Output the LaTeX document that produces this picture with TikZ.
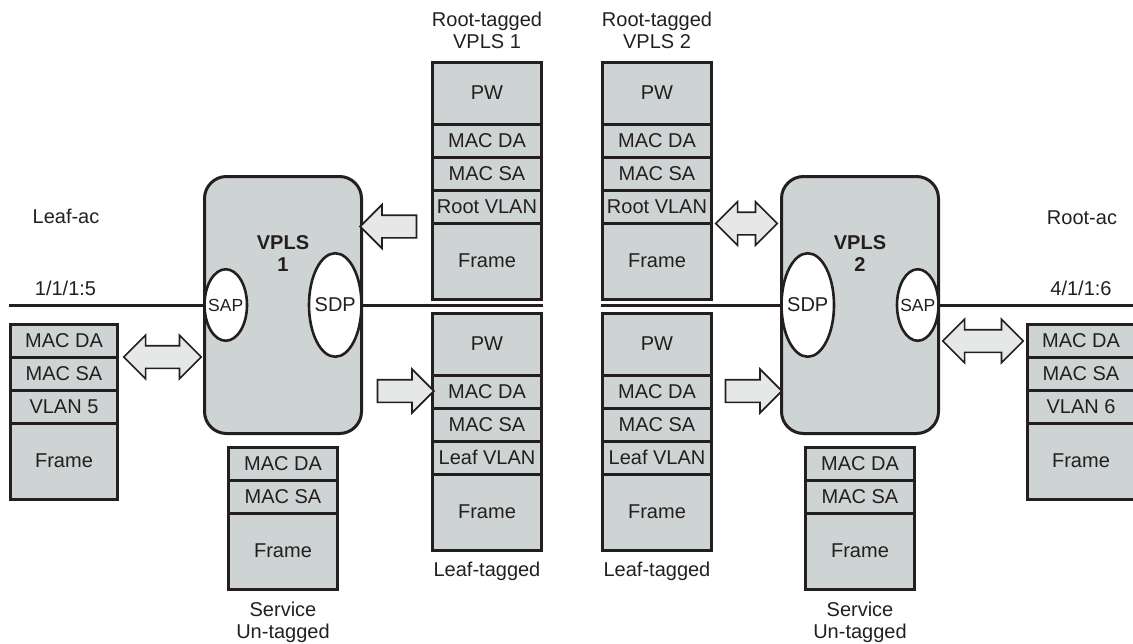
\documentclass[tikz,border=0pt]{standalone}
\usepackage{fontspec}
\setmainfont{Liberation Sans}
\usetikzlibrary{positioning,shapes.geometric,shapes.arrows}
\definecolor{ink}{RGB}{35,31,32}
\definecolor{cellgrey}{RGB}{206,211,211}
\definecolor{arrowgrey}{RGB}{230,231,231}
\begin{document}
\begin{tikzpicture}[
  x=1pt, y=-1pt,
  every node/.style={font=\fontsize{20}{22}\selectfont,inner sep=0pt,outer sep=0pt,text=ink},
  fieldcell/.style={draw=ink,fill=cellgrey,line width=3pt,minimum width=109pt,minimum height=33pt},
  pwcell/.style={fieldcell,minimum height=62pt},
  framecell/.style={fieldcell,minimum height=76pt},
  accesscell/.style={fieldcell,minimum width=106.5pt},
  vplsbox/.style={draw=ink,fill=cellgrey,line width=3pt,rounded corners=22pt,minimum width=157pt,minimum height=257pt},
  port/.style={ellipse,draw=ink,fill=white,line width=2.6pt},
  wire/.style={draw=ink,line width=3pt},
  fatarrow/.style={single arrow,draw=ink,fill=arrowgrey,line width=1.7pt,inner xsep=0pt,inner ysep=10.5pt,single arrow head extend=10.5pt,minimum height=56.5pt},
  twinarrow/.style={double arrow,draw=ink,fill=arrowgrey,line width=1.7pt,inner xsep=0pt,inner ysep=10.5pt,double arrow head extend=10.5pt},
  stacklabel/.style={align=center}
]
\useasboundingbox (0,0) rectangle (1133,643);

% service instances
\node[vplsbox] (vpls1) at (283,305) {};
\node[vplsbox] (vpls2) at (860,305) {};
\node[align=center,anchor=north,font=\fontsize{20}{22}\selectfont\bfseries] (vpls1label) at ([yshift=-59pt]vpls1.north) {VPLS\\1};
\node[align=center,anchor=north,font=\fontsize{20}{22}\selectfont\bfseries] (vpls2label) at ([yshift=-59pt]vpls2.north) {VPLS\\2};
\node[port,minimum width=42.5pt,minimum height=71.5pt,right=0pt of vpls1.west,label={[font=\fontsize{17.5}{20}\selectfont]center:SAP}] (sap1) {};
\node[port,minimum width=52.5pt,minimum height=103.5pt,left=0pt of vpls1.east,label=center:SDP] (sdp1) {};
\node[port,minimum width=52.5pt,minimum height=103.5pt,right=0pt of vpls2.west,label=center:SDP] (sdp2) {};
\node[port,minimum width=41.5pt,minimum height=71.5pt,left=0pt of vpls2.east,label={[font=\fontsize{17.5}{20}\selectfont]center:SAP}] (sap2) {};

% root-tagged frames
\node[pwcell] (r1pw) at (487,93) {PW};
\node[fieldcell,below=0pt of r1pw] (r1da) {MAC DA};
\node[fieldcell,below=0pt of r1da] (r1sa) {MAC SA};
\node[fieldcell,below=0pt of r1sa] (r1vl) {Root VLAN};
\node[framecell,below=0pt of r1vl] (r1fr) {Frame};
\node[pwcell] (r2pw) at (657,93) {PW};
\node[fieldcell,below=0pt of r2pw] (r2da) {MAC DA};
\node[fieldcell,below=0pt of r2da] (r2sa) {MAC SA};
\node[fieldcell,below=0pt of r2sa] (r2vl) {Root VLAN};
\node[framecell,below=0pt of r2vl] (r2fr) {Frame};
\node[stacklabel,above=13pt of r1pw] (r1cap) {Root-tagged\\VPLS 1};
\node[stacklabel,above=13pt of r2pw] (r2cap) {Root-tagged\\VPLS 2};

% leaf-tagged frames
\node[pwcell] (l1pw) at (487,344) {PW};
\node[fieldcell,below=0pt of l1pw] (l1da) {MAC DA};
\node[fieldcell,below=0pt of l1da] (l1sa) {MAC SA};
\node[fieldcell,below=0pt of l1sa] (l1vl) {Leaf VLAN};
\node[framecell,below=0pt of l1vl] (l1fr) {Frame};
\node[pwcell] (l2pw) at (657,344) {PW};
\node[fieldcell,below=0pt of l2pw] (l2da) {MAC DA};
\node[fieldcell,below=0pt of l2da] (l2sa) {MAC SA};
\node[fieldcell,below=0pt of l2sa] (l2vl) {Leaf VLAN};
\node[framecell,below=0pt of l2vl] (l2fr) {Frame};
\node[stacklabel,below=12pt of l1fr] (l1cap) {Leaf-tagged};
\node[stacklabel,below=12pt of l2fr] (l2cap) {Leaf-tagged};

% access frames
\node[accesscell] (a1da) at (64,340.5) {MAC DA};
\node[accesscell,below=0pt of a1da] (a1sa) {MAC SA};
\node[accesscell,below=0pt of a1sa] (a1vl) {VLAN 5};
\node[accesscell,framecell,minimum width=106.5pt,below=0pt of a1vl] (a1fr) {Frame};
\node[accesscell] (a2da) at (1081,340.5) {MAC DA};
\node[accesscell,below=0pt of a2da] (a2sa) {MAC SA};
\node[accesscell,below=0pt of a2sa] (a2vl) {VLAN 6};
\node[accesscell,framecell,minimum width=106.5pt,below=0pt of a2vl] (a2fr) {Frame};

% untagged service frames
\node[fieldcell] (s1da) at (283,463.5) {MAC DA};
\node[fieldcell,below=0pt of s1da] (s1sa) {MAC SA};
\node[framecell,below=0pt of s1sa] (s1fr) {Frame};
\node[fieldcell] (s2da) at (860,463.5) {MAC DA};
\node[fieldcell,below=0pt of s2da] (s2sa) {MAC SA};
\node[framecell,below=0pt of s2sa] (s2fr) {Frame};
\node[stacklabel,below=13pt of s1fr] (s1cap) {Service\\Un-tagged};
\node[stacklabel,below=13pt of s2fr] (s2cap) {Service\\Un-tagged};

% access ports and pseudowire
\node[anchor=base] (leafac) at (66,223) {Leaf-ac};
\node[anchor=base] (port1) at (65.5,295) {1/1/1:5};
\node[anchor=base] (rootac) at (1082,224) {Root-ac};
\node[anchor=base] (port2) at (1081,295) {4/1/1:6};
\coordinate (wireL) at (9,305);
\coordinate (gap1) at (543,305);
\coordinate (gap2) at (601,305);
\coordinate (wireR) at (1133,305);
\draw[wire] (wireL) -- (sap1.west);
\draw[wire] (sdp1.east) -- (gap1);
\draw[wire] (gap2) -- (sdp2.west);
\draw[wire] (sap2.east) -- (wireR);

% frame flow
\node[fatarrow,shape border rotate=180] (inr1) at (394,226.5) {};
\node[twinarrow,minimum height=61.5pt] (bir2) at (746.5,223.5) {};
\node[twinarrow,minimum height=77.5pt] (bia1) at (162.5,357) {};
\node[fatarrow] (outl1) at (400,391) {};
\node[fatarrow] (inl2) at (748,391) {};
\node[twinarrow,minimum height=80.5pt] (bia2) at (983,341) {};
\end{tikzpicture}
\end{document}
